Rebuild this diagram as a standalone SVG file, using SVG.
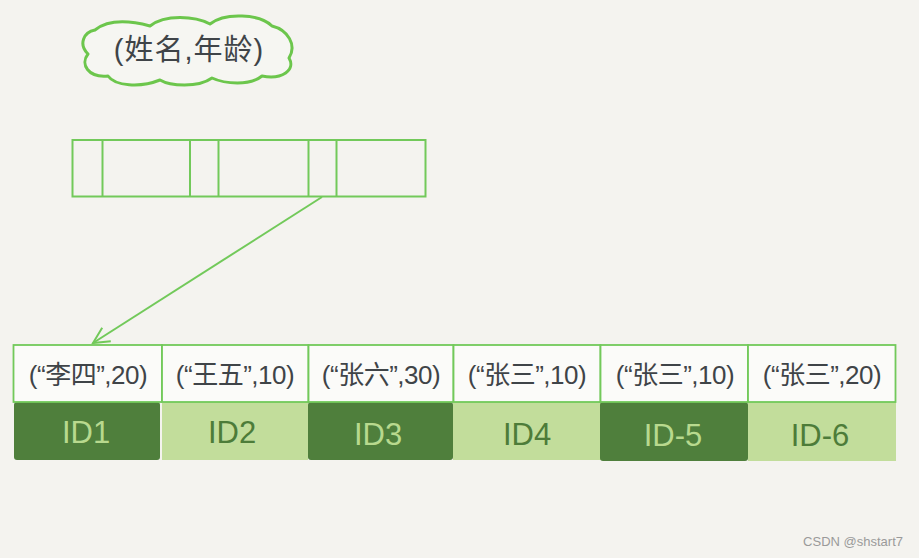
<svg xmlns="http://www.w3.org/2000/svg" width="919" height="558" viewBox="0 0 919 558">
<style>
.bg{fill:#f4f3ef}
.cloud{fill:#f6f6f2;stroke:#6cc64c;stroke-width:3;stroke-linejoin:round}
.box{fill:none;stroke:#72c95a;stroke-width:2}
.cell{fill:#fbfbf9;stroke:#72c95a;stroke-width:1.8}
.t{font-family:"Liberation Sans","Noto Sans CJK SC",sans-serif;fill:#3f4448}
.val{font-size:26px;text-anchor:middle;letter-spacing:-0.5px}
.dark{fill:#4f7f3c}
.light{fill:#c2dd9b}
.id{font-family:"Liberation Sans",sans-serif;font-size:31px;text-anchor:middle}
.idl{fill:#b8d98e}
.idd{fill:#4d7c39}
.conn{stroke:#72c95a;stroke-width:2;fill:none}
</style>
<defs>
<marker id="ah" viewBox="0 0 20 20" refX="18" refY="10" markerWidth="20" markerHeight="20" markerUnits="userSpaceOnUse" orient="auto">
<path d="M2,2 L18,10 L2,18" fill="none" stroke="#72c95a" stroke-width="2"/>
</marker>
</defs>
<rect class="bg" x="0" y="0" width="919" height="558"/>
<g id="cloud-node">
<path class="cloud" d="M95,30 C110,18 135,22 150,26 C165,14 195,16 210,24 C225,12 260,14 272,26 C288,30 297,45 289,58 C296,70 282,80 262,76 C250,86 225,84 212,78 C198,88 170,86 160,80 C140,88 115,86 108,76 C88,78 80,64 88,54 C78,44 84,32 95,30 Z"/>
<text class="t" x="189" y="60" font-size="29" text-anchor="middle" letter-spacing="1">(姓名,年龄)</text>
</g>
<g id="index-entry">
<rect class="box" x="72.5" y="140" width="353" height="56.5"/>
<line class="box" x1="102.5" y1="140" x2="102.5" y2="196.5"/>
<line class="box" x1="190" y1="140" x2="190" y2="196.5"/>
<line class="box" x1="218.5" y1="140" x2="218.5" y2="196.5"/>
<line class="box" x1="308.5" y1="140" x2="308.5" y2="196.5"/>
<line class="box" x1="336.5" y1="140" x2="336.5" y2="196.5"/>
</g>
<g id="connectors">
<line class="conn" x1="322" y1="197" x2="93" y2="343" marker-end="url(#ah)"/>
</g>
<g id="row1">
<rect class="dark" x="14" y="402" width="146" height="58" rx="3"/>
<rect class="cell" x="13.5" y="345" width="148.5" height="57"/>
<text class="t val" x="88" y="384">(“李四”,20)</text>
<text class="id idl" x="86" y="443">ID1</text>
</g>
<g id="row2">
<rect class="light" x="162" y="402" width="146" height="58"/>
<rect class="cell" x="162" y="345" width="146.5" height="57"/>
<text class="t val" x="235" y="384">(“王五”,10)</text>
<text class="id idd" x="232" y="443">ID2</text>
</g>
<g id="row3">
<rect class="dark" x="308" y="402" width="145" height="58" rx="3"/>
<rect class="cell" x="308.5" y="345" width="145" height="57"/>
<text class="t val" x="381" y="384">(“张六”,30)</text>
<text class="id idl" x="378" y="445">ID3</text>
</g>
<g id="row4">
<rect class="light" x="453" y="402" width="148" height="58"/>
<rect class="cell" x="453.5" y="345" width="147" height="57"/>
<text class="t val" x="527" y="384">(“张三”,10)</text>
<text class="id idd" x="527" y="445">ID4</text>
</g>
<g id="row5">
<rect class="dark" x="600" y="402" width="148" height="59" rx="3"/>
<rect class="cell" x="600.5" y="345" width="147.5" height="57"/>
<text class="t val" x="675" y="384">(“张三”,10)</text>
<text class="id idl" x="673" y="446">ID-5</text>
</g>
<g id="row6">
<rect class="light" x="748" y="402" width="148" height="59"/>
<rect class="cell" x="748" y="345" width="147.5" height="57"/>
<text class="t val" x="822" y="384">(“张三”,20)</text>
<text class="id idd" x="820" y="446">ID-6</text>
</g>
<text x="903" y="546" font-family="Liberation Sans,sans-serif" font-size="13" fill="#9a9a9a" text-anchor="end">CSDN @shstart7</text>
</svg>
